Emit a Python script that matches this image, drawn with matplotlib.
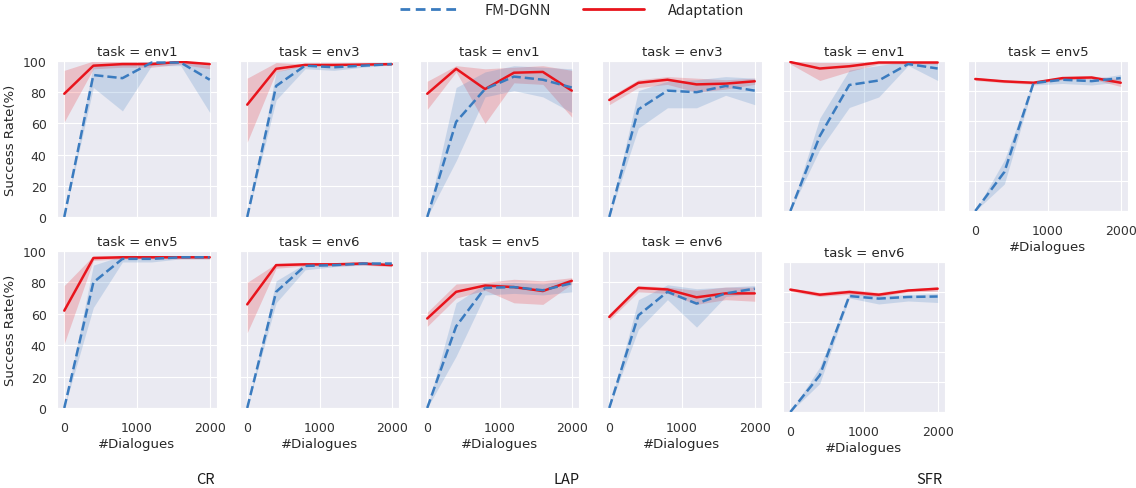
import matplotlib
matplotlib.use("Agg")
import matplotlib.pyplot as plt
import seaborn as sns
from matplotlib.lines import Line2D

sns.set_style("darkgrid")
plt.rcParams['font.family'] = ['DejaVu Sans']

# dialogue counts (x axis, shared by every panel)
steps = [0, 400, 800, 1200, 1600, 2000]

# ---- CR ----
cr_env1_fm    = [0, 91, 89, 99, 99, 88]
cr_env1_fm_lo = [0, 83, 68, 97, 97, 67]
cr_env1_fm_hi = [0, 98, 98, 100, 100, 97]
cr_env1_ad    = [79, 97, 98, 98, 99.5, 98]
cr_env1_ad_lo = [61, 95, 96, 96, 98, 95]
cr_env1_ad_hi = [94, 100, 100, 100, 100, 99]

cr_env3_fm    = [0, 84, 97, 96, 97, 98]
cr_env3_fm_lo = [0, 75, 95, 94, 96, 97.5]
cr_env3_fm_hi = [0, 93, 98, 97, 98, 98.5]
cr_env3_ad    = [72, 95, 97.5, 97.5, 97.7, 98]
cr_env3_ad_lo = [48, 93, 97, 97, 97.3, 97.5]
cr_env3_ad_hi = [89, 99, 98, 98, 98, 98.5]

cr_env5_fm    = [0, 80, 95, 95, 96, 96]
cr_env5_fm_lo = [0, 64, 93, 93, 95, 95]
cr_env5_fm_hi = [0, 91, 97, 96, 97, 97]
cr_env5_ad    = [62, 95.5, 96, 96, 96, 96]
cr_env5_ad_lo = [41, 94, 95, 95, 95, 95]
cr_env5_ad_hi = [78, 97, 97, 97, 97, 97]

cr_env6_fm    = [0, 74, 90.5, 91, 92, 92]
cr_env6_fm_lo = [0, 67, 88, 90, 91, 91]
cr_env6_fm_hi = [0, 81, 92, 92, 93, 93]
cr_env6_ad    = [66, 91, 91.5, 91.5, 92, 91]
cr_env6_ad_lo = [48, 89, 90.5, 90.5, 91, 90]
cr_env6_ad_hi = [80, 92, 92.5, 92.5, 93, 92]

# ---- LAP ----
lap_env1_fm    = [0, 61, 82, 90, 88, 83]
lap_env1_fm_lo = [0, 36, 77, 81, 77, 67]
lap_env1_fm_hi = [0, 83, 93, 97, 96, 95]
lap_env1_ad    = [79, 95, 82, 92.5, 93, 81]
lap_env1_ad_lo = [69, 93, 60, 86, 85, 64]
lap_env1_ad_hi = [87, 97, 95, 96, 97, 94]

lap_env3_fm    = [0, 69, 81, 80, 84, 81]
lap_env3_fm_lo = [0, 57, 70, 70, 78, 72]
lap_env3_fm_hi = [0, 81, 87, 88, 90, 89]
lap_env3_ad    = [75, 86, 88, 85, 85.5, 87]
lap_env3_ad_lo = [72, 83, 85, 80, 82, 85]
lap_env3_ad_hi = [77, 88, 90, 89, 88, 89]

lap_env5_fm    = [0, 52, 76.5, 77, 75, 79.5]
lap_env5_fm_lo = [0, 33, 72, 73, 72, 74]
lap_env5_fm_hi = [0, 67, 79, 80, 79, 82]
lap_env5_ad    = [57, 74, 78, 77, 74.5, 81]
lap_env5_ad_lo = [52, 70, 75, 67, 66, 79]
lap_env5_ad_hi = [61, 79, 80, 82, 81, 83]

lap_env6_fm    = [0, 59, 74, 66.5, 73, 76]
lap_env6_fm_lo = [0, 50, 69, 51.5, 71, 73]
lap_env6_fm_hi = [0, 69, 78.5, 76, 77, 78]
lap_env6_ad    = [58, 76.5, 75.5, 70.5, 73, 73]
lap_env6_ad_lo = [56, 74, 73, 66, 69, 68]
lap_env6_ad_hi = [60, 78, 77, 75, 77, 77]

# ---- SFR ----
sfr_env1_fm    = [0, 50, 84, 87, 98, 95]
sfr_env1_fm_lo = [0, 41, 69, 76, 97, 87]
sfr_env1_fm_hi = [0, 62, 94, 97, 100, 99]
sfr_env1_ad    = [99.3, 95, 96.5, 99, 99, 99]
sfr_env1_ad_lo = [98, 87, 93, 98, 98, 98]
sfr_env1_ad_hi = [100, 99, 99, 100, 100, 100]

sfr_env5_fm    = [0, 26, 85.3, 87.5, 86.6, 88.6]
sfr_env5_fm_lo = [0, 18, 84, 85, 84, 86]
sfr_env5_fm_hi = [0, 34, 86.5, 89, 88, 91]
sfr_env5_ad    = [88, 86.4, 85.5, 88.6, 89, 85.5]
sfr_env5_ad_lo = [87, 85.5, 84.5, 87.5, 88, 83]
sfr_env5_ad_hi = [89, 87.3, 86.5, 89.5, 90, 88]

sfr_env6_fm    = [0, 24.5, 77.3, 75.6, 76.7, 77]
sfr_env6_fm_lo = [0, 19, 76, 72, 74, 73]
sfr_env6_fm_hi = [0, 30, 79, 78, 78, 79]
sfr_env6_ad    = [81.6, 78.2, 80, 78.2, 81, 82.2]
sfr_env6_ad_lo = [80.5, 77, 78.5, 77, 80, 80.5]
sfr_env6_ad_hi = [82.5, 80, 81.5, 80, 82, 83.5]

blue = '#3a7bbf'
red = '#e8141c'

W, H = 1136, 489
fig = plt.figure(figsize=(W / 100, H / 100), dpi=100)


def px_rect(left, top, right, bottom):
    return [left / W, 1 - bottom / H, (right - left) / W, (bottom - top) / H]


def panel(rect, title, fm, fm_lo, fm_hi, ad, ad_lo, ad_hi, xlab=False, ylab=False):
    ax = fig.add_axes(px_rect(*rect))
    ax.fill_between(steps, ad_lo, ad_hi, color=red, alpha=0.2, lw=0)
    ax.fill_between(steps, fm_lo, fm_hi, color=blue, alpha=0.2, lw=0)
    ax.plot(steps, ad, color=red, lw=1.8, zorder=3)
    ax.plot(steps, fm, '--', color=blue, lw=1.8, zorder=4)
    ax.set_ylim(0, 100)
    ax.set_xticks([0, 1000, 2000])
    ax.set_yticks(range(0, 101, 20))
    ax.set_title(title, fontsize=9.5, color='.15', pad=4)
    ax.tick_params(labelsize=9, colors='.2', pad=4)
    ax.tick_params(axis='x', pad=6)
    if xlab:
        ax.set_xlabel('#Dialogues', fontsize=9.5, color='.15', labelpad=2)
    else:
        ax.tick_params(labelbottom=False)
    if ylab:
        ax.set_ylabel('Success Rate(%)', fontsize=9.5, color='.15', labelpad=4)
    else:
        ax.tick_params(labelleft=False)
    return ax


# CR group
panel((57, 62, 217, 218), 'task = env1', cr_env1_fm, cr_env1_fm_lo, cr_env1_fm_hi,
      cr_env1_ad, cr_env1_ad_lo, cr_env1_ad_hi, ylab=True)
panel((240, 62, 399, 218), 'task = env3', cr_env3_fm, cr_env3_fm_lo, cr_env3_fm_hi,
      cr_env3_ad, cr_env3_ad_lo, cr_env3_ad_hi)
panel((57, 252, 217, 409), 'task = env5', cr_env5_fm, cr_env5_fm_lo, cr_env5_fm_hi,
      cr_env5_ad, cr_env5_ad_lo, cr_env5_ad_hi, xlab=True, ylab=True)
panel((240, 252, 399, 409), 'task = env6', cr_env6_fm, cr_env6_fm_lo, cr_env6_fm_hi,
      cr_env6_ad, cr_env6_ad_lo, cr_env6_ad_hi, xlab=True)

# LAP group
panel((420, 62, 579, 218), 'task = env1', lap_env1_fm, lap_env1_fm_lo, lap_env1_fm_hi,
      lap_env1_ad, lap_env1_ad_lo, lap_env1_ad_hi)
panel((602, 62, 762, 218), 'task = env3', lap_env3_fm, lap_env3_fm_lo, lap_env3_fm_hi,
      lap_env3_ad, lap_env3_ad_lo, lap_env3_ad_hi)
panel((420, 252, 579, 409), 'task = env5', lap_env5_fm, lap_env5_fm_lo, lap_env5_fm_hi,
      lap_env5_ad, lap_env5_ad_lo, lap_env5_ad_hi, xlab=True)
panel((602, 252, 762, 409), 'task = env6', lap_env6_fm, lap_env6_fm_lo, lap_env6_fm_hi,
      lap_env6_ad, lap_env6_ad_lo, lap_env6_ad_hi, xlab=True)

# SFR group
panel((783, 62, 945, 212), 'task = env1', sfr_env1_fm, sfr_env1_fm_lo, sfr_env1_fm_hi,
      sfr_env1_ad, sfr_env1_ad_lo, sfr_env1_ad_hi)
panel((968, 62, 1128, 212), 'task = env5', sfr_env5_fm, sfr_env5_fm_lo, sfr_env5_fm_hi,
      sfr_env5_ad, sfr_env5_ad_lo, sfr_env5_ad_hi, xlab=True)
panel((783, 263, 945, 413), 'task = env6', sfr_env6_fm, sfr_env6_fm_lo, sfr_env6_fm_hi,
      sfr_env6_ad, sfr_env6_ad_lo, sfr_env6_ad_hi, xlab=True)

# group captions
cjk = ['Noto Sans CJK SC', 'DejaVu Sans']
for name, xc in [('CR', 205), ('LAP', 567), ('SFR', 929)]:
    fig.text(xc / W, 1 - 480 / H, name, ha='center', va='center',
             fontsize=10.5, family=cjk, color='.1')

# legend on top
handles = [Line2D([], [], color=blue, lw=2, ls=(0, (3.5, 2))),
           Line2D([], [], color=red, lw=2)]
fig.legend(handles, ['FM-DGNN', 'Adaptation'], loc='center',
           bbox_to_anchor=(572 / W, 1 - 11 / H), ncol=2, frameon=False,
           handlelength=4.2, handletextpad=1.6, columnspacing=2.2,
           prop={'family': cjk, 'size': 10.5})

fig.savefig('out.png', dpi=100, facecolor='white')
